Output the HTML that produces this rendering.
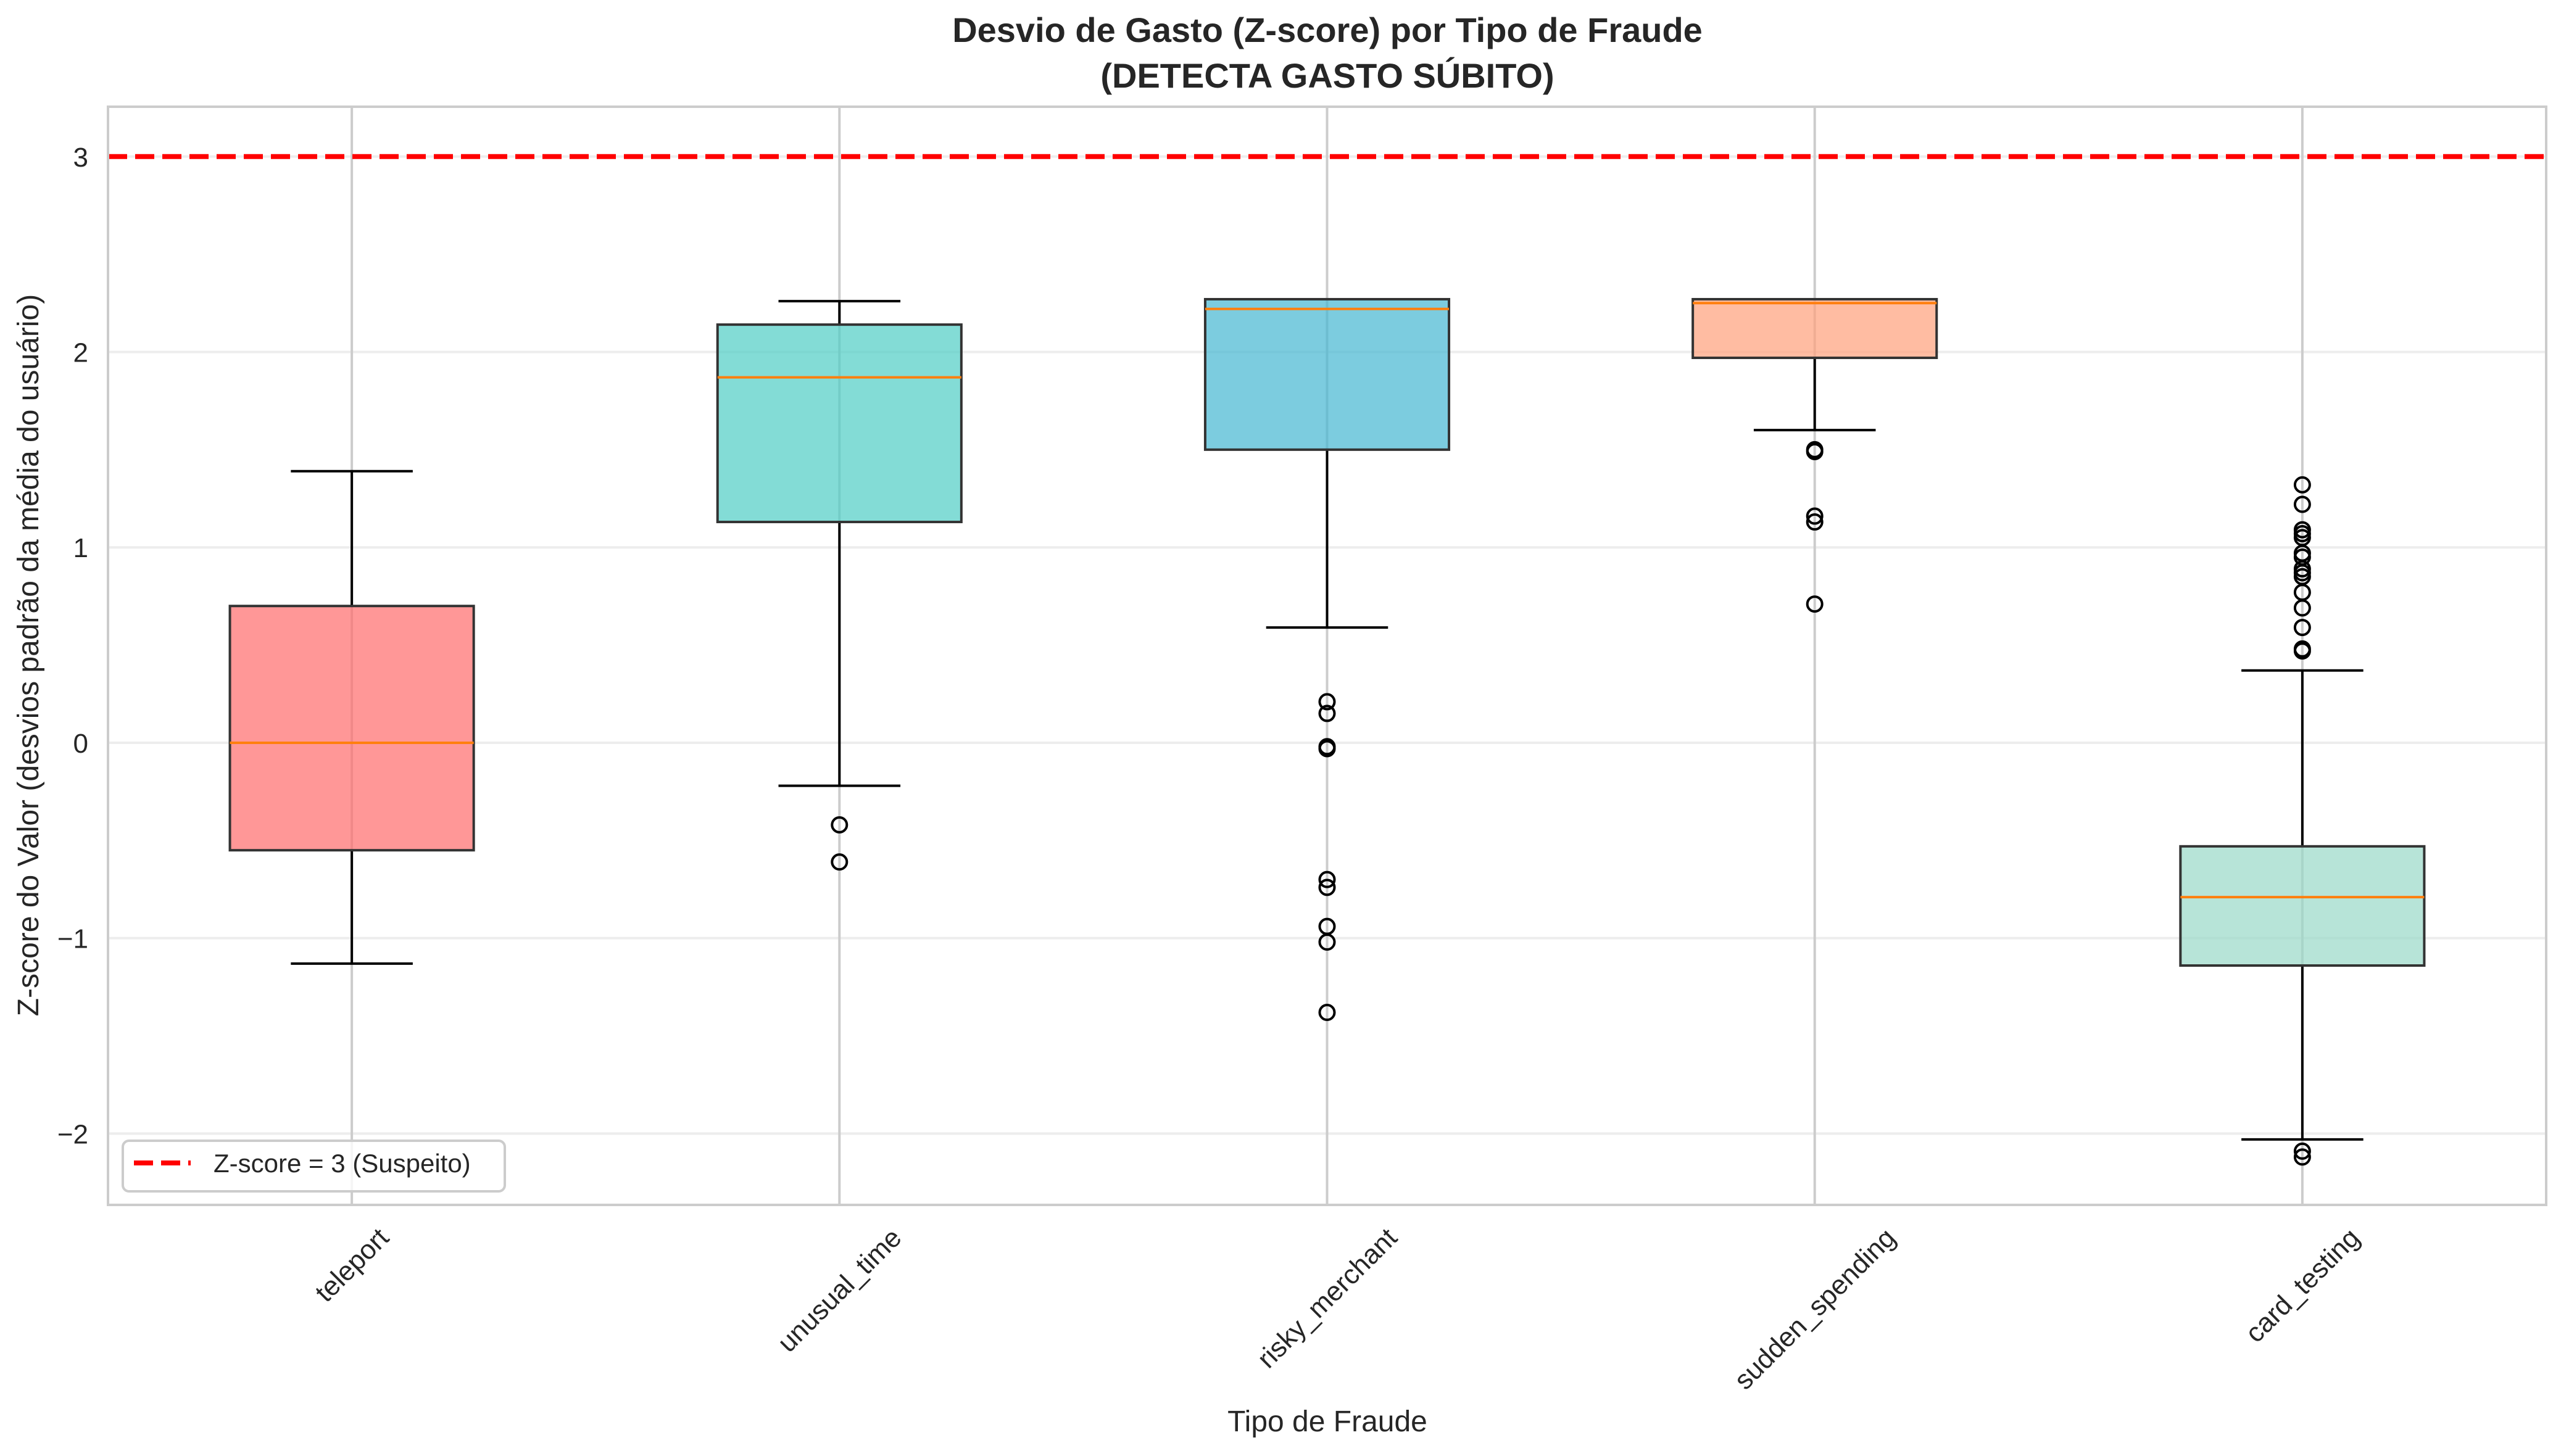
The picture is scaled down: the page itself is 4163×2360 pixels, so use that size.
<!DOCTYPE html>
<html><head><meta charset="utf-8"><style>
html,body{margin:0;padding:0;background:#fff}
svg{display:block;font-family:"Liberation Sans",Arial,sans-serif}
</style></head><body>
<svg id="chart" width="4163" height="2360" viewBox="0 0 4163 2360" xmlns="http://www.w3.org/2000/svg">
<rect x="0" y="0" width="4163" height="2360" fill="#fff"/>
<g id="grid"></g>
<g id="boxes"></g>
<g id="overlay"></g>
<text x="2151" y="68" text-anchor="middle" font-size="56" font-weight="bold" fill="#262626">Desvio de Gasto (Z-score) por Tipo de Fraude</text>
<text x="2151" y="142" text-anchor="middle" font-size="56" font-weight="bold" fill="#262626">(DETECTA GASTO SÚBITO)</text>
<text x="2151" y="2320" text-anchor="middle" font-size="48" fill="#262626">Tipo de Fraude</text>
<text x="0" y="0" transform="translate(62,1062) rotate(-90)" text-anchor="middle" font-size="48" fill="#262626">Z-score do Valor (desvios padrão da média do usuário)</text>
<g id="xticks"></g>
<g id="yticks"></g>
<g>
<rect x="199" y="1849" width="619" height="82" rx="10" fill="#fff" fill-opacity="0.8" stroke="#cccccc" stroke-width="4"/>
<line x1="217" y1="1885" x2="309" y2="1885" stroke="#ff0000" stroke-width="8" stroke-dasharray="31,13"/>
<text x="346" y="1900" font-size="42" fill="#262626">Z-score = 3 (Suspeito)</text>
</g>
</svg>
<script>
const categories = ["teleport","unusual_time","risky_merchant","sudden_spending","card_testing"];
const whiskerLow = [-1.13,-0.22,0.59,1.60,-2.03];
const q1 = [-0.55,1.13,1.50,1.97,-1.14];
const medians = [0.0,1.87,2.22,2.25,-0.79];
const q3 = [0.70,2.14,2.27,2.27,-0.53];
const whiskerHigh = [1.39,2.26,2.27,2.27,0.37];
const outliers = [
  [],
  [-0.42,-0.61],
  [0.21,0.15,-0.02,-0.03,-0.70,-0.74,-0.94,-1.02,-1.38],
  [1.50,1.49,1.16,1.13,0.71],
  [1.32,1.22,1.09,1.07,1.05,0.97,0.95,0.89,0.87,0.85,0.77,0.69,0.59,0.48,0.47,-2.09,-2.12]
];
const yTicks = [-2,-1,0,1,2,3];
const yTickLabels = ["\u22122","\u22121","0","1","2","3"];
const threshold = 3;
const colors = ["#FF6B6B","#4ECDC4","#45B7D1","#FFA07A","#98D8C8"];

const NS="http://www.w3.org/2000/svg";
const L=175,R=4126,T=173,B=1953;
const yMin=-2.365,yMax=3.255;
function y(v){return B-(v-yMin)/(yMax-yMin)*(B-T);}
function x(i){return L+(i+0.5)*(R-L)/categories.length;}
const unit=(R-L)/categories.length;
function mk(tag,attrs,parent){const e=document.createElementNS(NS,tag);for(const k in attrs)e.setAttribute(k,attrs[k]);parent.appendChild(e);return e;}
const grid=document.getElementById('grid'),boxes=document.getElementById('boxes'),ov=document.getElementById('overlay');
const xt=document.getElementById('xticks'),yt=document.getElementById('yticks');

yTicks.forEach((t,k)=>{
  const g=mk('line',{x1:L,x2:R,y1:y(t),y2:y(t),stroke:'#cccccc','stroke-opacity':0.35,'stroke-width':4},grid);
  
  
  const tx=mk('text',{x:L-32,y:y(t)+16,'text-anchor':'end','font-size':44,fill:'#262626'},yt);
  tx.textContent=yTickLabels[k];
  
  
});
categories.forEach((c,i)=>{
  const g=mk('line',{x1:x(i),x2:x(i),y1:T,y2:B,stroke:'#cccccc','stroke-width':4},grid);
  
  
});

categories.forEach((c,i)=>{
  const cx=x(i),hw=unit*0.25,cw=unit*0.125;
  const grp=mk('g',{},boxes);
  
  
  const w1=mk('line',{x1:cx,x2:cx,y1:y(q1[i]),y2:y(whiskerLow[i]),stroke:'#000','stroke-width':4},grp);
  
  
  const w2=mk('line',{x1:cx,x2:cx,y1:y(q3[i]),y2:y(whiskerHigh[i]),stroke:'#000','stroke-width':4},grp);
  
  
  const c1=mk('line',{x1:cx-cw,x2:cx+cw,y1:y(whiskerLow[i]),y2:y(whiskerLow[i]),stroke:'#000','stroke-width':4},grp);
  
  
  const c2=mk('line',{x1:cx-cw,x2:cx+cw,y1:y(whiskerHigh[i]),y2:y(whiskerHigh[i]),stroke:'#000','stroke-width':4},grp);
  
  
  const rc=mk('rect',{x:cx-hw,y:y(q3[i]),width:2*hw,height:Math.max(1,y(q1[i])-y(q3[i])),fill:colors[i],'fill-opacity':0.7,stroke:'#333','stroke-width':4},grp);
  
  
  const md=mk('line',{x1:cx-hw,x2:cx+hw,y1:y(medians[i]),y2:y(medians[i]),stroke:'#ff7f0e','stroke-width':4},grp);
  
  
  outliers[i].forEach(v=>{
    const o=mk('circle',{cx:cx,cy:y(v),r:12,fill:'none',stroke:'#000','stroke-width':4},grp);
    
    
  });
  const lt=mk('text',{x:0,y:0,'text-anchor':'middle','font-size':44,fill:'#262626'},xt);
  lt.textContent=c;
  
  
  const w=lt.getComputedTextLength();
  const half=(w*0.7071+44*0.7071)/2;
  lt.setAttribute('transform','translate('+cx+','+(B+30+half)+') rotate(-45) translate(0,15)');
});

const th=mk('line',{x1:L,x2:R,y1:y(threshold),y2:y(threshold),stroke:'#ff0000','stroke-width':8,'stroke-dasharray':'31,13'},ov);


const fr=mk('rect',{x:L,y:T,width:R-L,height:B-T,fill:'none',stroke:'#cccccc','stroke-width':4},ov);


</script>
</body></html>
